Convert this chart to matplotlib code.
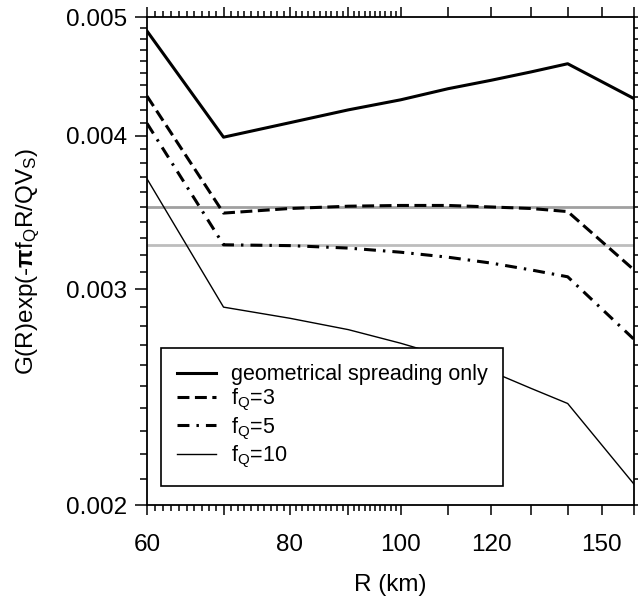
import matplotlib
matplotlib.use("Agg")
import matplotlib.pyplot as plt
from matplotlib.ticker import FixedLocator, FuncFormatter, NullFormatter

# distance (km) and G(R)exp(-pi f R / Q Vs)
R_km = [60, 70, 80, 90, 100, 110, 120, 130, 140, 160]
geom = [0.00487, 0.00399, 0.00410, 0.00420, 0.00428, 0.00437, 0.00444, 0.00451, 0.00458, 0.00429]
fq3 = [0.00431, 0.00346, 0.00349, 0.003505, 0.00351, 0.00351, 0.00350, 0.00349, 0.00347, 0.00311]
fq5 = [0.004095, 0.00326, 0.003255, 0.00324, 0.003215, 0.003185, 0.00315, 0.00311, 0.00307, 0.00273]
fq10 = [0.00369, 0.00290, 0.00284, 0.00278, 0.00271, 0.00264, 0.00257, 0.00249, 0.00242, 0.00208]

ref_levels = [0.00350, 0.00326]
ref_colors = ['#a0a0a0', '#bdbdbd']

labels = ['geometrical spreading only', r'f$_{\rm Q}$=3', r'f$_{\rm Q}$=5', r'f$_{\rm Q}$=10']

x_major = [60, 70, 80, 90, 100, 110, 120, 130, 140, 150, 160]
x_labeled = [60, 80, 100, 120, 150]
y_major = [0.002, 0.003, 0.004, 0.005]

plt.rcParams['font.family'] = ['Liberation Sans', 'DejaVu Sans']
plt.rcParams['mathtext.fontset'] = 'custom'
plt.rcParams['mathtext.rm'] = 'Liberation Sans'
plt.rcParams['mathtext.bf'] = 'Liberation Sans:bold'
plt.rcParams['mathtext.it'] = 'Liberation Sans:italic'

fig = plt.figure(figsize=(6.38, 6.01), dpi=100)
ax = fig.add_axes([0.2304, 0.1597, 0.7633, 0.812])

for lev, c in zip(ref_levels, ref_colors):
    ax.axhline(lev, color=c, lw=2.0, zorder=1)

ax.plot(R_km, geom, color='black', lw=2.2, label=labels[0], zorder=3)
ax.plot(R_km, fq3, color='black', lw=2.2, ls=(0, (3.9, 1.8)), label=labels[1], zorder=3)
ax.plot(R_km, fq5, color='black', lw=2.2, ls=(0, (3.9, 2.3, 0.8, 2.3)), label=labels[2], zorder=3)
ax.plot(R_km, fq10, color='black', lw=1.0, label=labels[3], zorder=3)

ax.set_xscale('log')
ax.set_yscale('log')
ax.set_xlim(60, 160)
ax.set_ylim(0.002, 0.005)

ax.xaxis.set_major_locator(FixedLocator(x_major))
ax.xaxis.set_major_formatter(FuncFormatter(lambda v, p: '%d' % round(v) if round(v) in x_labeled else ''))
ax.xaxis.set_minor_locator(FixedLocator([v for v in range(61, 100) if v % 10]))
ax.xaxis.set_minor_formatter(NullFormatter())

ax.yaxis.set_major_locator(FixedLocator(y_major))
ax.yaxis.set_major_formatter(FuncFormatter(lambda v, p: '%.3f' % v))
ax.yaxis.set_minor_locator(FixedLocator([i / 10000 for i in range(20, 51) if i % 10]))
ax.yaxis.set_minor_formatter(NullFormatter())

ax.tick_params(which='both', direction='out', top=True, right=True, width=1.1, colors='black')
ax.tick_params(axis='x', which='major', length=7, labelsize=17.5, pad=14)
ax.tick_params(axis='x', which='minor', length=4)
ax.tick_params(axis='y', which='major', length=9, labelsize=17.5, pad=5)
ax.tick_params(axis='y', which='minor', length=5)
for s in ax.spines.values():
    s.set_linewidth(1.3)

ax.set_xlabel('R (km)', fontsize=17.5, va='center')
ax.xaxis.set_label_coords(0.5, -0.164)
ax.set_ylabel(r'G(R)exp(-$\mathbf{\pi}$f$_{\rm Q}$R/QV$_{\rm S}$)', fontsize=17.5, va='center')
ax.yaxis.set_label_coords(-0.244, 0.5)

leg = ax.legend(loc='lower left', bbox_to_anchor=(0.028, 0.039), borderaxespad=0,
                fontsize=15.5, frameon=True, fancybox=False, edgecolor='black',
                framealpha=1, handlelength=1.8, handletextpad=0.7,
                labelspacing=0.1, borderpad=0.75)
leg.get_frame().set_linewidth(1.2)
leg.set_zorder(5)

fig.savefig('out.png', dpi=100)
